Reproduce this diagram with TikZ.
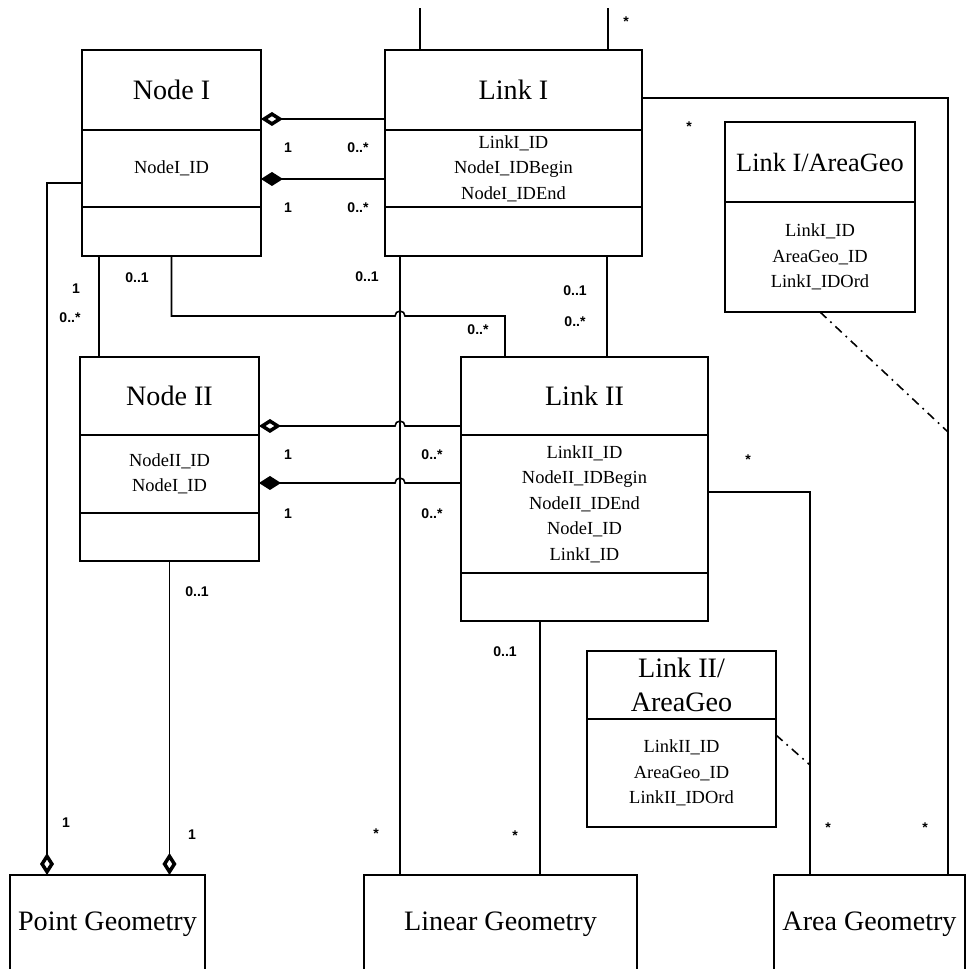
\documentclass[tikz,border=0pt]{standalone}
\usepackage{fontspec}
\setmainfont{Liberation Serif}
\setsansfont{Liberation Sans}
\usetikzlibrary{arrows.meta,positioning}

\begin{document}
\begin{tikzpicture}[
    x=0.02cm, y=-0.02cm,
    box/.style={draw, line width=1pt, inner sep=1pt, outer sep=0pt, align=center},
    hdr/.style={box, font=\fontsize{16}{19}\selectfont},
    attr/.style={box, font=\fontsize{10.5}{14.5}\selectfont},
    geo/.style={hdr, anchor=north west, minimum height=1.96cm},
    mult/.style={font=\sffamily\bfseries\fontsize{8}{9}\selectfont, inner sep=1pt},
    conn/.style={line width=0.9pt},
    agg/.style={conn, {Diamond[open, length=0.44cm, width=0.28cm, line width=2pt]}-},
    comp/.style={conn, {Diamond[length=0.44cm, width=0.28cm]}-},
    assoc/.style={line width=0.9pt, dash pattern=on 5pt off 3pt on 1pt off 3pt}
  ]
    \useasboundingbox (0,0) rectangle (975,969);
    \clip (0,0) rectangle (975,969);

    \node[hdr, anchor=north west, minimum width=3.58cm, minimum height=1.6cm] (n1h) at (82,50) {Node I};
    \node[attr, minimum width=3.58cm, minimum height=1.54cm, below=0pt of n1h] (n1a) {NodeI\_ID};
    \node[attr, minimum width=3.58cm, minimum height=0.98cm, below=0pt of n1a] (n1o) {};

    \node[hdr, anchor=north west, minimum width=5.14cm, minimum height=1.6cm] (l1h) at (385,50) {Link I};
    \node[attr, minimum width=5.14cm, minimum height=1.54cm, below=0pt of l1h] (l1a) {LinkI\_ID\\NodeI\_IDBegin\\NodeI\_IDEnd};
    \node[attr, minimum width=5.14cm, minimum height=0.98cm, below=0pt of l1a] (l1o) {};

    \node[hdr, anchor=north west, minimum width=3.58cm, minimum height=1.56cm] (n2h) at (80,357) {Node II};
    \node[attr, minimum width=3.58cm, minimum height=1.56cm, below=0pt of n2h] (n2a) {NodeII\_ID\\NodeI\_ID};
    \node[attr, minimum width=3.58cm, minimum height=0.96cm, below=0pt of n2a] (n2o) {};

    \node[hdr, anchor=north west, minimum width=4.94cm, minimum height=1.56cm] (l2h) at (461,357) {Link II};
    \node[attr, minimum width=4.94cm, minimum height=2.76cm, below=0pt of l2h] (l2a) {LinkII\_ID\\NodeII\_IDBegin\\NodeII\_IDEnd\\NodeI\_ID\\LinkI\_ID};
    \node[attr, minimum width=4.94cm, minimum height=0.96cm, below=0pt of l2a] (l2o) {};

    \node[hdr, anchor=north west, minimum width=3.8cm, minimum height=1.6cm, font=\fontsize{15}{18}\selectfont] (la1h) at (725,122) {Link I/AreaGeo};
    \node[attr, minimum width=3.8cm, minimum height=2.2cm, below=0pt of la1h] (la1a) {LinkI\_ID\\AreaGeo\_ID\\LinkI\_IDOrd};

    \node[hdr, anchor=north west, minimum width=3.78cm, minimum height=1.36cm] (la2h) at (587,651) {Link II/\\AreaGeo};
    \node[attr, minimum width=3.78cm, minimum height=2.16cm, below=0pt of la2h] (la2a) {LinkII\_ID\\AreaGeo\_ID\\LinkII\_IDOrd};

    \node[geo, minimum width=3.9cm] (pg) at (10,875) {Point Geometry};
    \node[geo, minimum width=5.46cm] (lg) at (364,875) {Linear Geometry};
    \node[geo, minimum width=3.82cm] (ag) at (774,875) {Area Geometry};

    \coordinate (t1) at (420,8);
    \coordinate (t2) at (608,8);
    \coordinate (c1) at (948,432);
    \coordinate (c2) at (810,765);

    \draw[agg] (n1h.east |- 0,119) -- (l1h.west |- 0,119);
    \draw[comp] (n1a.east |- 0,179) -- (l1a.west |- 0,179);
    \draw[agg] (n2h.east |- 0,426) -- (395,426) arc[start angle=180, end angle=0, radius=0.1cm] -- (l2h.west |- 0,426);
    \draw[comp] (n2a.east |- 0,483) -- (395,483) arc[start angle=180, end angle=0, radius=0.1cm] -- (l2a.west |- 0,483);
    \draw[agg] (pg.north -| 47,0) |- (n1a.west |- 0,183);
    \draw[agg] (pg.north -| n2o.south) -- (n2o.south);
    \draw[conn] (n1o.south -| 99,0) -- (n2h.north -| 99,0);
    \draw[conn] (n1o.south) |- (395,316) arc[start angle=180, end angle=0, radius=0.1cm] -| (l2h.north -| 505,0);
    \draw[conn] (l1o.south -| 400,0) -- (lg.north -| 400,0);
    \draw[conn] (l1o.south -| 607,0) -- (l2h.north -| 607,0);
    \draw[conn] (l2o.south -| 540,0) -- (lg.north -| 540,0);
    \draw[conn] (l1h.east |- 0,98) -| (ag.north -| c1);
    \draw[conn] (l2a.east |- 0,492) -| (ag.north -| c2);
    \draw[conn] (l1h.north -| t1) -- (t1);
    \draw[conn] (l1h.north -| t2) -- (t2);
    \draw[assoc] (la1a.south) -- (c1);
    \draw[assoc] (la2a.east |- 0,735) -- (c2);

    \node[mult] (m1) at (288,148) {1};
    \node[mult] (m2) at (358,148) {0..*};
    \node[mult] (m3) at (288,208) {1};
    \node[mult] (m4) at (358,208) {0..*};
    \node[mult] (m5) at (288,455) {1};
    \node[mult] (m6) at (432,455) {0..*};
    \node[mult] (m7) at (288,514) {1};
    \node[mult] (m8) at (432,514) {0..*};
    \node[mult] (m9) at (76,289) {1};
    \node[mult] (m10) at (70,318) {0..*};
    \node[mult] (m11) at (137,278) {0..1};
    \node[mult] (m12) at (367,277) {0..1};
    \node[mult] (m13) at (478,330) {0..*};
    \node[mult] (m14) at (575,291) {0..1};
    \node[mult] (m15) at (575,322) {0..*};
    \node[mult] (m16) at (197,592) {0..1};
    \node[mult] (m17) at (505,652) {0..1};
    \node[mult] (m18) at (66,823) {1};
    \node[mult] (m19) at (192,835) {1};
    \node[mult] (m20) at (376,834) {*};
    \node[mult] (m21) at (515,836) {*};
    \node[mult] (m22) at (828,828) {*};
    \node[mult] (m23) at (925,828) {*};
    \node[mult] (m24) at (689,127) {*};
    \node[mult] (m25) at (748,460) {*};
    \node[mult] (m26) at (626,22) {*};
  \end{tikzpicture}
\end{document}
